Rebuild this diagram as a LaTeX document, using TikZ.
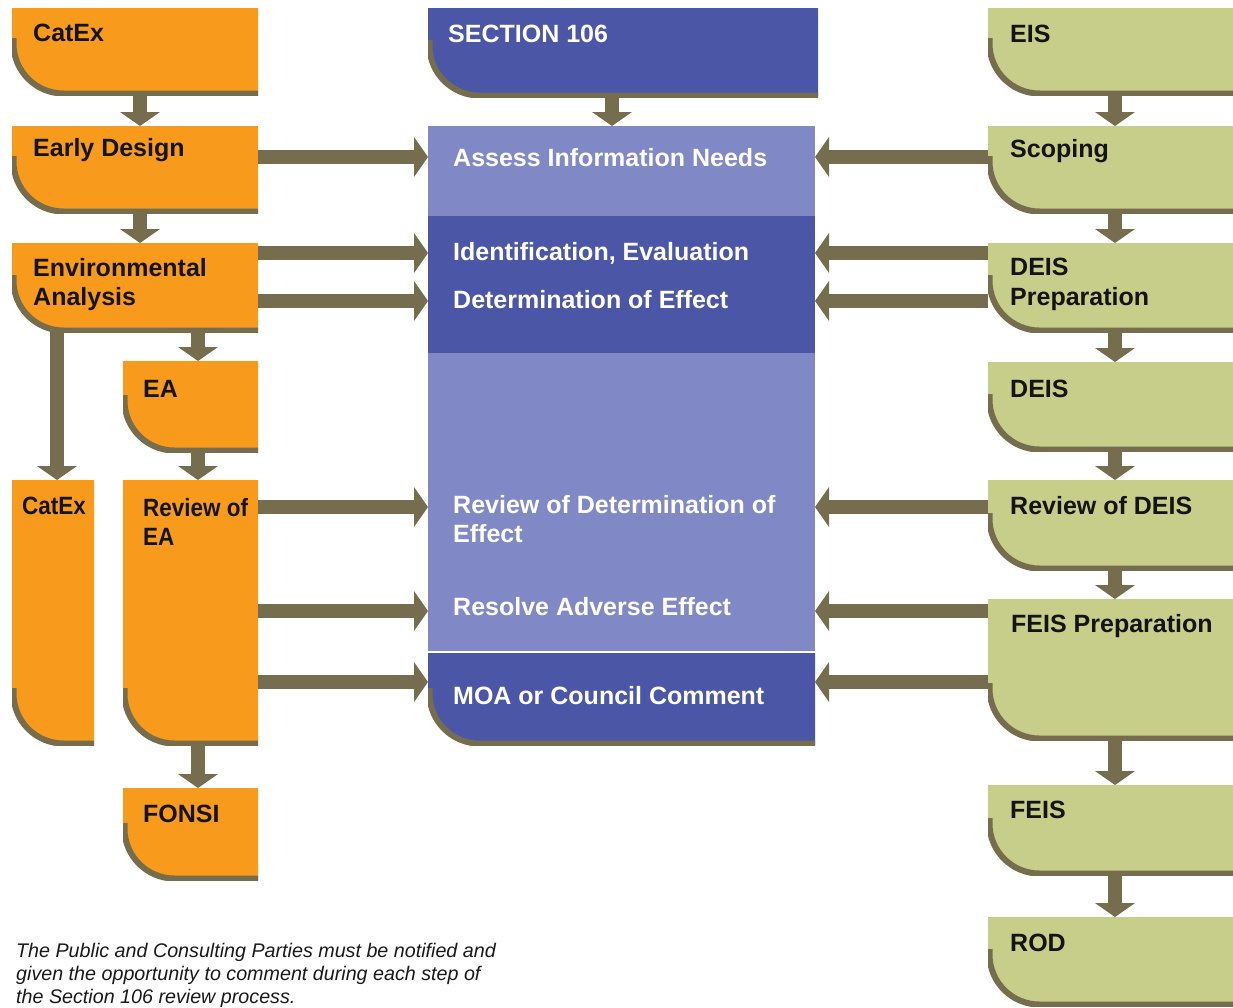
\documentclass[tikz,border=0pt]{standalone}
\usepackage{fontspec}
\setmainfont{Liberation Sans}
\usepackage{tikz}
\usetikzlibrary{arrows.meta}

\definecolor{boxorange}{RGB}{248,155,28}
\definecolor{boxgreen}{RGB}{198,206,138}
\definecolor{arrowolive}{RGB}{117,109,77}
\definecolor{darkband}{RGB}{75,86,167}
\definecolor{lightband}{RGB}{128,137,198}

\tikzset{
    flowbox/.style n args={3}{rectangle, anchor=north west, inner sep=0pt, outer sep=0pt,
        minimum width=#1pt, minimum height=#2pt,
        path picture={
            \fill[#3] (path picture bounding box.north west) -- (path picture bounding box.north east)
                -- (path picture bounding box.south east)
                -- ([xshift=50pt]path picture bounding box.south west)
                arc[start angle=270, end angle=180, radius=50pt] -- cycle;
            \draw[arrowolive, line width=6pt] ([shift={(1.5pt,57pt)}]path picture bounding box.south west)
                -- ([shift={(1.5pt,51.5pt)}]path picture bounding box.south west)
                arc[start angle=180, end angle=270, radius=50pt]
                -- ([yshift=1.5pt]path picture bounding box.south east);
        }},
    band/.style n args={3}{rectangle, anchor=north west, inner sep=0pt, outer sep=0pt,
        minimum width=#1pt, minimum height=#2pt, fill=#3},
    boxtext/.style={font=\bfseries\fontsize{25}{29.5}\selectfont, inner sep=0pt,
        anchor=north west, align=left, text=black!92},
    narrowtext/.style={boxtext, font=\bfseries\fontsize{25}{29.5}\selectfont\addfontfeatures{FakeStretch=0.9}},
    bandtext/.style={boxtext, text=white},
    note/.style={font=\itshape\fontsize{19.7}{23}\selectfont, inner sep=0pt,
        anchor=north west, align=left, text=black!90},
    flow/.style={draw=arrowolive, line width=14pt,
        -{Triangle[width=40pt, length=14pt, line width=0pt]}},
}

\begin{document}
\begin{tikzpicture}[x=1pt, y=-1pt]
        \useasboundingbox (0,0) rectangle (1233,1007);

        % left column
        \node[flowbox={246}{87}{boxorange}] (catexA) at (12, 8) {};
        \node[flowbox={246}{87}{boxorange}] (early) at (12, 126) {};
        \node[flowbox={246}{89}{boxorange}] (envan) at (12, 243) {};
        \node[flowbox={135}{91}{boxorange}] (ea) at (123, 361) {};
        \node[flowbox={82}{265}{boxorange}] (catexB) at (12, 480) {};
        \node[flowbox={135}{265}{boxorange}] (reviewea) at (123, 480) {};
        \node[flowbox={135}{92}{boxorange}] (fonsi) at (123, 788) {};

        \node[boxtext] (t-catexA) at (33, 24) {CatEx};
        \node[boxtext] (t-early) at (33, 138) {Early Design};
        \node[boxtext] (t-envan) at (33, 258) {Environmental\\Analysis};
        \node[boxtext] (t-ea) at (143, 380) {EA};
        \node[narrowtext] (t-catexB) at (22, 497) {CatEx};
        \node[narrowtext] (t-reviewea) at (143, 498) {Review of\\EA};
        \node[boxtext] (t-fonsi) at (143, 805) {FONSI};

        % section 106
        \node[flowbox={390}{89}{darkband}] (sec106) at (428, 8) {};
        \node[band={387}{90}{lightband}] (assess) at (428, 126) {};
        \node[band={387}{137}{darkband}] (evalband) at (428, 216) {};
        \node[band={387}{298}{lightband}] (reviewband) at (428, 353) {};
        \node[flowbox={387}{92}{darkband}] (moa) at (428, 653) {};

        \node[bandtext] (t-sec106) at (448, 25) {SECTION 106};
        \node[bandtext] (t-assess) at (453, 148) {Assess Information Needs};
        \node[bandtext] (t-ident) at (453, 242) {Identification, Evaluation};
        \node[bandtext] (t-determ) at (453, 290) {Determination of Effect};
        \node[bandtext] (t-reviewdet) at (453, 495) {Review of Determination of\\Effect};
        \node[bandtext] (t-resolve) at (453, 597) {Resolve Adverse Effect};
        \node[bandtext] (t-moa) at (453, 686) {MOA or Council Comment};

        % right column
        \node[flowbox={245}{87}{boxgreen}] (eis) at (988, 8) {};
        \node[flowbox={245}{87}{boxgreen}] (scoping) at (988, 126) {};
        \node[flowbox={245}{89}{boxgreen}] (deisprep) at (988, 243) {};
        \node[flowbox={245}{89}{boxgreen}] (deis) at (988, 362) {};
        \node[flowbox={245}{90}{boxgreen}] (reviewdeis) at (988, 480) {};
        \node[flowbox={245}{141}{boxgreen}] (feisprep) at (988, 599) {};
        \node[flowbox={245}{90}{boxgreen}] (feis) at (988, 785) {};
        \node[flowbox={245}{89}{boxgreen}] (rod) at (988, 917) {};

        \node[boxtext] (t-eis) at (1010, 25) {EIS};
        \node[boxtext] (t-scoping) at (1010, 139) {Scoping};
        \node[boxtext] (t-deisprep) at (1010, 258) {DEIS\\Preparation};
        \node[boxtext] (t-deis) at (1010, 380) {DEIS};
        \node[boxtext] (t-reviewdeis) at (1010, 496) {Review of DEIS};
        \node[boxtext] (t-feisprep) at (1011, 614) {FEIS Preparation};
        \node[boxtext] (t-feis) at (1010, 801) {FEIS};
        \node[boxtext] (t-rod) at (1010, 934) {ROD};

        \node[note] (note) at (16, 943) {The Public and Consulting Parties must be notified and\\given the opportunity to comment during each step of\\the Section 106 review process.};

        % downward arrows
        \draw[flow] (catexA.south -| 140,0) -- (early.north -| 140,0);
        \draw[flow] (early.south -| 140,0) -- (envan.north -| 140,0);
        \draw[flow] (envan.south -| 198,0) -- (ea.north -| 198,0);
        \draw[flow] (envan.south -| 57,0) -- (catexB.north -| 57,0);
        \draw[flow] (ea.south -| 198,0) -- (reviewea.north -| 198,0);
        \draw[flow] (reviewea.south -| 198,0) -- (fonsi.north -| 198,0);
        \draw[flow] (sec106.south -| 612,0) -- (assess.north -| 612,0);
        \draw[flow] (eis.south -| 1115,0) -- (scoping.north -| 1115,0);
        \draw[flow] (scoping.south -| 1115,0) -- (deisprep.north -| 1115,0);
        \draw[flow] (deisprep.south -| 1115,0) -- (deis.north -| 1115,0);
        \draw[flow] (deis.south -| 1115,0) -- (reviewdeis.north -| 1115,0);
        \draw[flow] (reviewdeis.south -| 1115,0) -- (feisprep.north -| 1115,0);
        \draw[flow] (feisprep.south -| 1115,0) -- (feis.north -| 1115,0);
        \draw[flow] (feis.south -| 1115,0) -- (rod.north -| 1115,0);

        % arrows into section 106
        \draw[flow] (early.east |- 0,157) -- (assess.west |- 0,157);
        \draw[flow] (envan.east |- 0,253) -- (evalband.west |- 0,253);
        \draw[flow] (envan.east |- 0,301) -- (evalband.west |- 0,301);
        \draw[flow] (reviewea.east |- 0,507) -- (reviewband.west |- 0,507);
        \draw[flow] (reviewea.east |- 0,611) -- (reviewband.west |- 0,611);
        \draw[flow] (reviewea.east |- 0,682) -- (moa.west |- 0,682);
        \draw[flow] (scoping.west |- 0,157) -- (assess.east |- 0,157);
        \draw[flow] (deisprep.west |- 0,253) -- (evalband.east |- 0,253);
        \draw[flow] (deisprep.west |- 0,301) -- (evalband.east |- 0,301);
        \draw[flow] (reviewdeis.west |- 0,507) -- (reviewband.east |- 0,507);
        \draw[flow] (feisprep.west |- 0,611) -- (reviewband.east |- 0,611);
        \draw[flow] (feisprep.west |- 0,682) -- (moa.east |- 0,682);
    \end{tikzpicture}
\end{document}
